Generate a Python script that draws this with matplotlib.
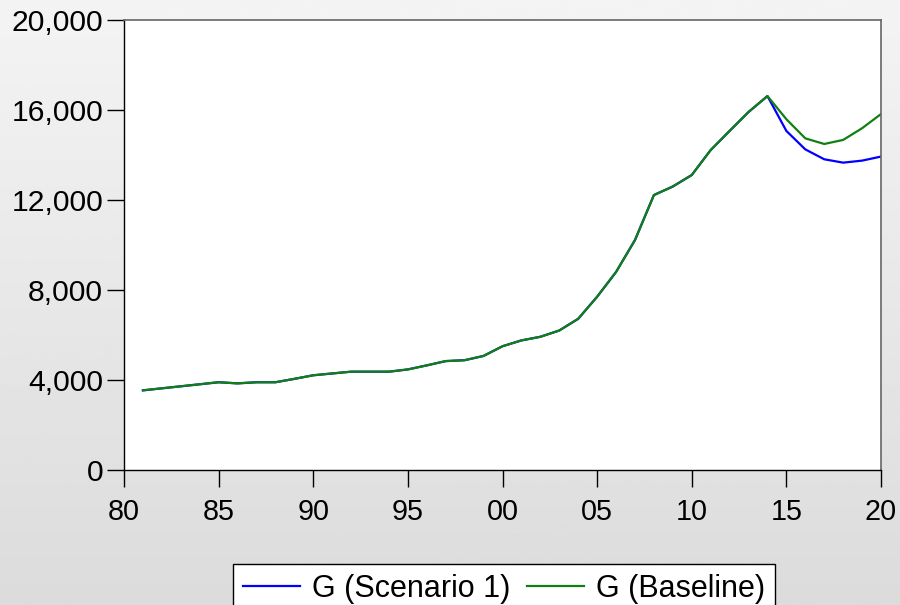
import numpy as np
import matplotlib
matplotlib.use("Agg")
import matplotlib.pyplot as plt
from matplotlib.ticker import FuncFormatter

# === DATA ===
years = list(range(1981, 2021))
g_baseline = [3540, 3630, 3720, 3810, 3900, 3850, 3900, 3900, 4050, 4210,
              4290, 4370, 4370, 4370, 4470, 4650, 4840, 4880, 5070, 5500,
              5760, 5920, 6200, 6720, 7700, 8800, 10220, 12220, 12600, 13110,
              14220, 15070, 15910, 16620, 15590, 14740, 14490, 14670, 15190, 15820]
g_scenario1 = g_baseline[:34] + [15070, 14250, 13810, 13660, 13750, 13930]

x_tick_years = [1980, 1985, 1990, 1995, 2000, 2005, 2010, 2015, 2020]
y_ticks = [0, 4000, 8000, 12000, 16000, 20000]

label_s1 = "G (Scenario 1)"
label_base = "G (Baseline)"

plt.rcParams['font.family'] = ["Liberation Sans", "DejaVu Sans"]

fig = plt.figure(figsize=(9, 6.05), dpi=100)

# gradient background
bg = fig.add_axes([0, 0, 1, 1], zorder=-10)
grad = np.linspace(0.955, 0.86, 256).reshape(-1, 1)
bg.imshow(grad, aspect='auto', cmap='gray', vmin=0, vmax=1, extent=[0, 1, 0, 1])
bg.set_axis_off()

ax = fig.add_axes([124 / 900, 135 / 605, 757 / 900, 450 / 605])
ax.set_facecolor('white')

ax.plot(years, g_scenario1, color='#0000ff', lw=1.6, label=label_s1)
ax.plot(years, g_baseline, color='#118011', lw=1.6, label=label_base)

ax.set_xlim(1980, 2020)
ax.set_ylim(0, 20000)
ax.set_xticks(x_tick_years)
ax.set_xticklabels([f"{y % 100:02d}" for y in x_tick_years])
ax.set_yticks(y_ticks)
ax.yaxis.set_major_formatter(FuncFormatter(lambda v, p: f"{int(v):,}"))
ax.tick_params(axis='y', labelsize=21.7, length=12, width=1, pad=3)
ax.tick_params(axis='x', labelsize=20.7, length=12, width=1, pad=8)

for s in ['left', 'bottom']:
    ax.spines[s].set_color('black')
    ax.spines[s].set_linewidth(1)
for s in ['top', 'right']:
    ax.spines[s].set_color('#666666')
    ax.spines[s].set_linewidth(1.2)

handles, labels = ax.get_legend_handles_labels()
leg = fig.legend(handles, labels, loc='upper left',
                 bbox_to_anchor=(233 / 900, 1 - 564 / 605),
                 ncol=2, frameon=True, fancybox=False, edgecolor='black',
                 prop={'size': 22}, handlelength=1.87, columnspacing=0.57,
                 handletextpad=0.37, borderpad=0.33, borderaxespad=0.0)
leg.get_frame().set_linewidth(1)
leg.get_frame().set_facecolor('white')
leg.get_frame().set_alpha(1)

fig.savefig("out.png", dpi=100)
